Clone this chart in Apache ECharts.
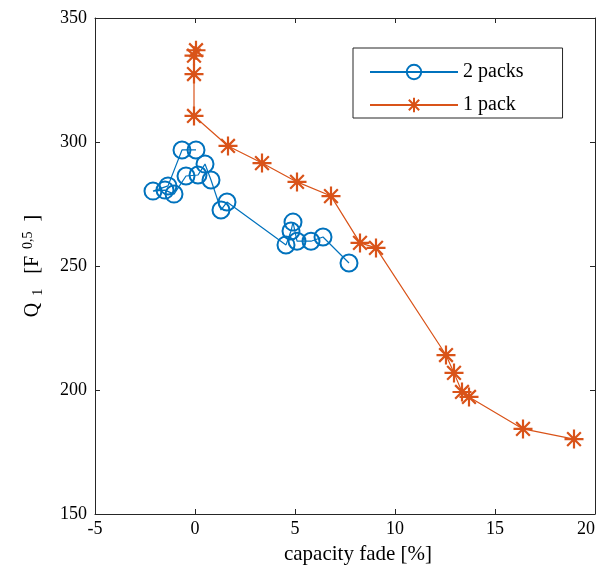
<!DOCTYPE html>
<html><head><meta charset="utf-8">
<script src="https://cdn.jsdelivr.net/npm/echarts@6/dist/echarts.min.js"></script>
<style>html,body{margin:0;padding:0;background:#fff}#c{width:598px;height:568px}</style>
</head><body><div id="c"></div>
<script>
const xTicks = [-5, 0, 5, 10, 15, 20];
const yTicks = [150, 200, 250, 300, 350];
const twoPacksX = [0.05, -0.65, -1.35, -2.1, -1.5, -1.05, -0.45, 0.15, 0.5, 0.8, 1.3, 1.6, 4.55, 4.8, 4.9, 5.1, 5.8, 6.4, 7.7];
const twoPacksY = [296.8, 296.8, 282.3, 280.2, 280.6, 279.0, 286.3, 286.7, 291.1, 284.7, 272.6, 275.8, 258.5, 264.1, 267.7, 260.0, 260.0, 261.7, 251.2];
const onePackX = [0.05, -0.05, -0.05, -0.05, 1.65, 3.35, 5.1, 6.8, 8.25, 9.05, 12.55, 12.95, 13.35, 13.7, 16.4, 18.95];
const onePackY = [337.0, 334.8, 327.4, 310.5, 298.4, 291.5, 283.9, 278.2, 259.3, 257.3, 214.1, 206.9, 199.2, 197.2, 184.3, 180.2];

const font = 'Liberation Serif';
const star = 'path://M0,-1L0,1M-1,0L1,0M-0.72,-0.72L0.72,0.72M-0.72,0.72L0.72,-0.72';
const zip = (a, b) => a.map((v, i) => [v, b[i]]);
const chart = echarts.init(document.getElementById('c'));
const baseAxis = {
  axisLine: { show: true, onZero: false, lineStyle: { color: '#262626', width: 1 } },
  axisTick: { show: true, inside: true, length: 5, lineStyle: { color: '#262626' } },
  splitLine: { show: false }
};
chart.setOption({
  animation: false,
  grid: { left: 95, top: 18, width: 500, height: 496, show: false, containLabel: false, outerBoundsMode: 'none' },
  legend: {
    orient: 'vertical', left: 353, top: 48,
    data: ['2 packs', '1 pack'],
    itemWidth: 88, itemHeight: 18, itemGap: 13,
    padding: [14, 39, 3, 16],
    borderColor: '#262626', borderWidth: 1,
    textStyle: { fontFamily: font, fontSize: 20, lineHeight: 18, color: '#000' }
  },
  xAxis: [
    Object.assign({}, baseAxis, {
      type: 'value', min: xTicks[0], max: xTicks[xTicks.length - 1], interval: 5, position: 'bottom',
      axisLabel: { fontFamily: font, fontSize: 18, color: '#000', margin: 6, alignMaxLabel: 'right' },
      name: 'capacity fade [%]', nameLocation: 'middle', nameGap: 30,
      nameTextStyle: { fontFamily: font, fontSize: 21, color: '#000', padding: [0, 0, 0, 26] }
    }),
    Object.assign({}, baseAxis, {
      type: 'value', min: xTicks[0], max: xTicks[xTicks.length - 1], interval: 5, position: 'top',
      axisLabel: { show: false }
    })
  ],
  yAxis: [
    Object.assign({}, baseAxis, {
      type: 'value', min: yTicks[0], max: yTicks[yTicks.length - 1], interval: 50, position: 'left',
      axisLabel: { fontFamily: font, fontSize: 18, color: '#000', margin: 8 },
      name: '{q|Q}{sub|  1}{q|   [F}{sup|  0,5}{q|  ]}', nameLocation: 'middle', nameGap: 50,
      nameTextStyle: {
        fontFamily: font, fontSize: 20, color: '#000',
        rich: {
          q: { fontFamily: font, fontSize: 20, color: '#000' },
          sub: { fontFamily: font, fontSize: 14, color: '#000', verticalAlign: 'bottom', padding: [10, 0, 0, 0] },
          sup: { fontFamily: font, fontSize: 14, color: '#000', verticalAlign: 'top', padding: [0, 0, 4, 0] }
        }
      }
    }),
    Object.assign({}, baseAxis, {
      type: 'value', min: yTicks[0], max: yTicks[yTicks.length - 1], interval: 50, position: 'right',
      axisLabel: { show: false }
    })
  ],
  series: [
    {
      name: '2 packs', type: 'line', data: zip(twoPacksX, twoPacksY),
      symbol: 'circle', symbolSize: 17, showAllSymbol: true,
      lineStyle: { color: '#0072BD', width: 1.2 },
      itemStyle: { color: 'rgba(255,255,255,0)', borderColor: '#0072BD', borderWidth: 2 }
    },
    {
      name: '1 pack', type: 'line', data: zip(onePackX, onePackY),
      symbol: star, symbolSize: 19, showAllSymbol: true,
      lineStyle: { color: '#D95319', width: 1.2 },
      itemStyle: { color: '#D95319', borderColor: '#D95319', borderWidth: 2.2 }
    }
  ]
});
</script></body></html>
